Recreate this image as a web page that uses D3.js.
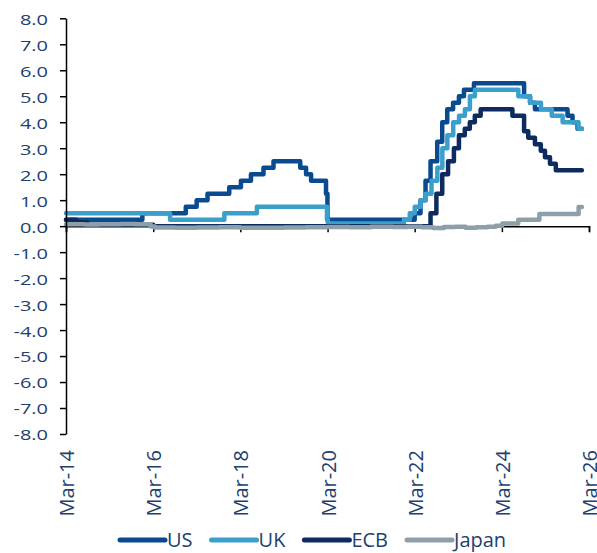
<!DOCTYPE html>
<html><head><meta charset="utf-8">
<script src="https://cdn.jsdelivr.net/npm/d3@7"></script>
<style>body{margin:0;background:#fff} svg{display:block}</style>
</head><body>
<svg id="chart" width="597" height="553"></svg>
<script>
// ---- data (step changes as they appear in the chart) ----
const seriesNames = ["US", "UK", "ECB", "Japan"];
const seriesColors = ["#0a4a8f", "#3a9fcb", "#0d2b5e", "#8d9fa8"];
const endDate = "2025-12-31";

const usRates = [
  ["2014-03-01",0.25],["2015-12-01",0.5],["2016-11-29",0.75],["2017-02-28",1.0],["2017-05-30",1.25],
  ["2017-11-28",1.5],["2018-03-06",1.75],["2018-05-29",2.0],["2018-09-11",2.25],["2018-12-04",2.5],
  ["2019-07-16",2.25],["2019-09-03",2.0],["2019-10-15",1.75],["2020-02-17",1.25],["2020-02-29",0.25],
  ["2022-03-01",0.5],["2022-04-19",1.0],["2022-05-31",1.75],["2022-07-12",2.5],["2022-09-06",3.25],
  ["2022-10-18",4.0],["2022-11-29",4.5],["2023-01-17",4.75],["2023-03-07",5.0],["2023-04-18",5.25],
  ["2023-07-11",5.5],["2024-09-03",5.0],["2024-10-23",4.75],["2024-12-03",4.5],["2025-09-02",4.25],
  ["2025-10-14",4.0],["2025-11-25",3.75]
];
const ukRates = [
  ["2014-03-01",0.5],["2016-07-20",0.25],["2017-10-18",0.5],["2018-07-18",0.75],["2020-02-25",0.25],
  ["2020-03-04",0.1],["2021-12-01",0.25],["2022-01-19",0.5],["2022-03-02",0.75],["2022-04-20",1.0],
  ["2022-06-01",1.25],["2022-07-20",1.75],["2022-09-07",2.25],["2022-10-19",3.0],["2022-11-30",3.5],
  ["2023-01-18",4.0],["2023-03-08",4.25],["2023-04-26",4.5],["2023-06-07",5.0],["2023-07-19",5.25],
  ["2024-07-17",5.0],["2024-10-23",4.75],["2025-01-22",4.5],["2025-04-23",4.25],["2025-07-23",4.0],
  ["2025-12-03",3.75]
];
const ecbRates = [
  ["2014-03-01",0.25],["2014-05-27",0.15],["2014-08-26",0.05],["2016-03-01",0.0],["2022-07-12",0.5],
  ["2022-08-30",1.25],["2022-10-18",2.0],["2022-12-06",2.5],["2023-01-24",3.0],["2023-03-07",3.5],
  ["2023-04-25",3.75],["2023-06-06",4.0],["2023-07-18",4.25],["2023-09-05",4.5],["2024-05-28",4.25],
  ["2024-09-03",3.65],["2024-10-08",3.4],["2024-12-03",3.15],["2025-01-21",2.9],["2025-02-25",2.65],
  ["2025-04-08",2.4],["2025-05-27",2.15]
];
const japanRates = [
  ["2014-03-01",0.07],["2014-08-01",0.06],["2014-12-01",0.07],["2015-06-01",0.08],["2015-10-01",0.07],
  ["2016-02-08",-0.01],["2016-03-15",-0.05],["2016-09-01",-0.06],["2017-03-01",-0.05],["2017-09-01",-0.04],
  ["2018-03-01",-0.06],["2018-09-01",-0.06],["2019-03-01",-0.05],["2019-09-01",-0.04],["2020-03-01",-0.03],
  ["2020-09-01",-0.04],["2021-03-01",-0.02],["2021-09-01",-0.03],["2022-01-01",-0.02],["2022-05-01",-0.04],
  ["2022-08-01",-0.07],["2022-11-01",-0.03],["2023-02-01",-0.02],["2023-05-01",-0.06],["2023-08-01",-0.04],
  ["2023-11-01",-0.02],["2024-01-10",0.02],["2024-03-04",0.1],["2024-07-16",0.25],["2025-01-09",0.47],
  ["2025-12-04",0.74]
];
const seriesData = [usRates, ukRates, ecbRates, japanRates];

const yTicks = [8,7,6,5,4,3,2,1,0,-1,-2,-3,-4,-5,-6,-7,-8];
const xTickDates = ["2014-03-01","2016-03-01","2018-03-01","2020-03-01","2022-03-01","2024-03-01","2026-03-01"];
const xTickLabels = ["Mar-14","Mar-16","Mar-18","Mar-20","Mar-22","Mar-24","Mar-26"];

// ---- drawing ----
const parse = d3.timeParse("%Y-%m-%d");
const svg = d3.select("#chart");
const font = "'Open Sans', sans-serif";
const textColor = "#213f6f";

const x = d3.scaleTime().domain([parse(xTickDates[0]), parse(xTickDates[xTickDates.length-1])]).range([66, 589]);
const y = d3.scaleLinear().domain([-8, 8]).range([434, 18.3]);

// x axis at zero (drawn under lines)
const xAxis = svg.append("g").attr("transform", `translate(0,${y(0)})`)
  .call(d3.axisBottom(x).tickValues(xTickDates.map(parse)).tickSize(6).tickFormat(""));
xAxis.select(".domain").attr("stroke", "#000").attr("stroke-width", 1.5);
xAxis.selectAll(".tick line").attr("stroke", "#000").attr("stroke-width", 1.5);

// x labels rotated
svg.append("g").selectAll("text").data(xTickDates).join("text")
  .attr("transform", (d) => `translate(${x(parse(d)) + 8},${450}) rotate(-90)`)
  .attr("text-anchor", "end")
  .attr("font-family", font).attr("font-size", 20).attr("fill", textColor)
  .text((d, i) => xTickLabels[i]);

// lines
const line = d3.line().curve(d3.curveStepAfter).x(d => x(d[0])).y(d => y(d[1]));
seriesData.forEach((s, i) => {
  const pts = s.map(d => [parse(d[0]), d[1]]);
  pts.push([parse(endDate), s[s.length-1][1]]);
  svg.append("path").datum(pts)
    .attr("d", line)
    .attr("fill", "none")
    .attr("stroke", seriesColors[i])
    .attr("stroke-width", 4.5)
    .attr("stroke-linejoin", "round")
    .attr("stroke-linecap", "round");
});

// y axis (on top)
const yAxis = svg.append("g").attr("transform", `translate(66,0)`)
  .call(d3.axisLeft(y).tickValues(yTicks).tickSize(6).tickSizeOuter(0).tickFormat(""));
yAxis.select(".domain").attr("stroke", "#000").attr("stroke-width", 1.5);
yAxis.selectAll(".tick line").attr("stroke", "#000").attr("stroke-width", 1.5);

svg.append("g").selectAll("text").data(yTicks).join("text")
  .attr("transform", d => `translate(48,${y(d) + 0.5}) scale(1,0.75)`)
  .attr("text-anchor", "end")
  .attr("dominant-baseline", "central")
  .attr("font-family", font).attr("font-size", 20).attr("fill", textColor)
  .text(d => d.toFixed(1));

// legend
let lx = 120;
seriesNames.forEach((name, i) => {
  const g = svg.append("g");
  g.append("line").attr("x1", lx).attr("x2", lx + 45).attr("y1", 540).attr("y2", 540)
    .attr("stroke", seriesColors[i]).attr("stroke-width", 5).attr("stroke-linecap", "round");
  const t = g.append("text").attr("x", lx + 47).attr("y", 547)
    .attr("font-family", font).attr("font-size", 20).attr("fill", textColor).text(name);
  lx = lx + 47 + t.node().getComputedTextLength() + 19;
});
</script>
</body></html>
